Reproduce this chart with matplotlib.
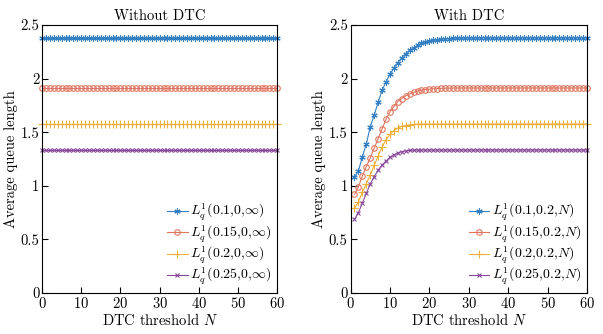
import matplotlib
matplotlib.use("Agg")
import matplotlib.pyplot as plt
from matplotlib.ticker import FuncFormatter

plt.rcParams['font.family'] = 'serif'
plt.rcParams['font.serif'] = ['cmr10']
plt.rcParams['mathtext.fontset'] = 'cm'
plt.rcParams['axes.formatter.use_mathtext'] = True
plt.rcParams['font.size'] = 10.5

# ---- data ----
N_left = list(range(0, 61))
N_right = list(range(1, 61))

no_dtc_01 = [2.383] * 61
no_dtc_015 = [1.913] * 61
no_dtc_02 = [1.577] * 61
no_dtc_025 = [1.334] * 61

dtc_01 = [1.08, 1.14, 1.27, 1.39, 1.55, 1.66, 1.78, 1.89, 1.97, 2.04,
          2.10, 2.15, 2.195, 2.235, 2.265, 2.29, 2.31, 2.33, 2.34, 2.35,
          2.357, 2.363, 2.368, 2.372, 2.375, 2.377, 2.379, 2.38, 2.381, 2.382] + [2.383] * 30
dtc_015 = [0.92, 0.99, 1.09, 1.18, 1.26, 1.35, 1.44, 1.53, 1.62, 1.69,
           1.74, 1.785, 1.815, 1.84, 1.857, 1.872, 1.884, 1.893, 1.899, 1.903,
           1.906, 1.908, 1.91, 1.911, 1.912] + [1.913] * 35
dtc_02 = [0.79, 0.85, 0.94, 1.02, 1.10, 1.19, 1.28, 1.36, 1.43, 1.48,
          1.515, 1.54, 1.555, 1.563, 1.569, 1.573, 1.575, 1.576] + [1.577] * 42
dtc_025 = [0.687, 0.75, 0.84, 0.93, 1.017, 1.085, 1.147, 1.194, 1.231, 1.265,
           1.29, 1.308, 1.319, 1.326, 1.33, 1.332, 1.333] + [1.334] * 43

lam = ['0.1', '0.15', '0.2', '0.25']
colors = ['#3580c2', '#e0765f', '#eeb03a', '#8a4a9c']
markers = [(6, 2, 0), 'o', '+', 'x']
msizes = [4.5, 4, 6, 3.5]

fig = plt.figure(figsize=(6.03, 3.34), dpi=100)
ax1 = fig.add_axes([0.0697, 0.1228, 0.39, 0.802])
ax2 = fig.add_axes([0.5813, 0.1228, 0.3922, 0.802])

left_series = [no_dtc_01, no_dtc_015, no_dtc_02, no_dtc_025]
right_series = [dtc_01, dtc_015, dtc_02, dtc_025]

for i in range(4):
    ax1.plot(N_left, left_series[i], color=colors[i], marker=markers[i], ms=msizes[i],
             mfc='none' if markers[i] == 'o' else colors[i], mew=0.8, lw=0.8, clip_on=False,
             label=r'$L_q^1$(' + lam[i] + r',0,$\infty$)')
    ax2.plot(N_right, right_series[i], color=colors[i], marker=markers[i], ms=msizes[i],
             mfc='none' if markers[i] == 'o' else colors[i], mew=0.8, lw=0.8, clip_on=False,
             label=r'$L_q^1$(' + lam[i] + r',0.2,$N$)')

fmt = FuncFormatter(lambda v, p: ('%g' % v))
for ax, title in [(ax1, 'Without DTC'), (ax2, 'With DTC')]:
    ax.set_xlim(0, 60)
    ax.set_ylim(0, 2.5)
    ax.set_xticks([0, 10, 20, 30, 40, 50, 60])
    ax.set_yticks([0, 0.5, 1, 1.5, 2, 2.5])
    ax.yaxis.set_major_formatter(fmt)
    ax.tick_params(direction='in', length=4, width=0.8, top=False, right=False, pad=2)
    ax.set_title(title, fontsize=10.5, pad=4)
    ax.set_xlabel('DTC threshold $N$', labelpad=1)
    ax.set_ylabel('Average queue length', labelpad=2)
    for s in ax.spines.values():
        s.set_linewidth(0.8)
    ax.legend(loc='lower right', frameon=False, handlelength=1.5, labelspacing=0.02,
              borderaxespad=0.0, handletextpad=0.2, fontsize=10)

fig.savefig('out.png', dpi=100)
